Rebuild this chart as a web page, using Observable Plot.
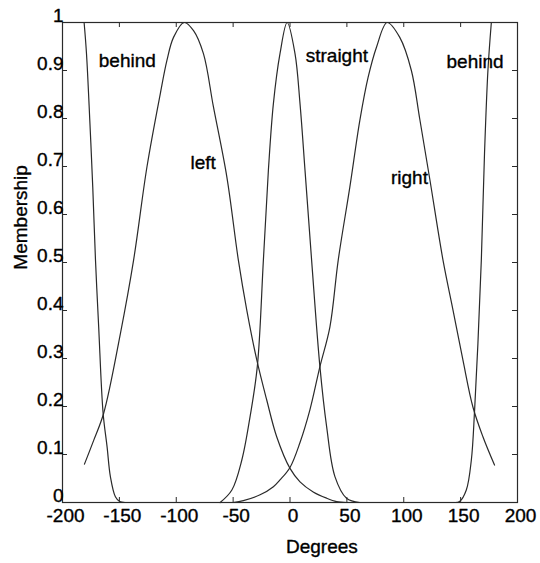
<!DOCTYPE html>
<html>
<head>
<meta charset="utf-8">
<script src="https://cdn.jsdelivr.net/npm/d3@7"></script>
<script src="https://cdn.jsdelivr.net/npm/@observablehq/plot@0.6"></script>
<style>
  html, body { margin: 0; padding: 0; background: #fff; }
  #chart { width: 540px; height: 563px; }
</style>
</head>
<body>
<div id="chart"></div>
<script>
// ---- data ----
const behindLDeg = [-181, -178.9, -176, -173.4, -171, -168.2, -164.3, -160.8, -157.9, -153.5, -149.7, -145];
const behindLMu  = [1.0, 0.935, 0.796, 0.657, 0.505, 0.366, 0.186, 0.116, 0.054, 0.012, 0.002, 0];

const leftDeg = [-180.7, -172.5, -163.8, -149.1, -137.5, -125.7, -114, -108.2, -102.4, -93, -84.8, -76.1, -67.3, -55.5, -45.4, -38, -29.2, -20.4, -11.7, 0, 8.8, 20.4, 32.2, 41, 50];
const leftMu  = [0.080, 0.130, 0.186, 0.352, 0.505, 0.700, 0.852, 0.921, 0.969, 1.0, 0.983, 0.935, 0.824, 0.678, 0.505, 0.401, 0.297, 0.213, 0.137, 0.071, 0.043, 0.022, 0.009, 0.002, 0];

const straightDeg = [-61.4, -51.1, -42.4, -35.1, -28.7, -23.4, -19, -14.6, -8.8, -2.5, 4.4, 8.8, 13.2, 19, 26.3, 32.2, 39.5, 49.7, 61.4];
const straightMu  = [0, 0.026, 0.088, 0.179, 0.284, 0.505, 0.692, 0.831, 0.935, 1.0, 0.935, 0.831, 0.692, 0.505, 0.283, 0.158, 0.054, 0.009, 0];

const rightDeg = [-50, -41, -26.3, -14.6, -8.8, 0, 8.8, 17.5, 26.3, 35.1, 42.4, 52.6, 61.4, 68.7, 76.1, 85.4, 96.5, 106.7, 114, 122.8, 134.5, 143.3, 152, 160.8, 169.6, 179.8];
const rightMu  = [0, 0.004, 0.016, 0.033, 0.047, 0.073, 0.125, 0.193, 0.283, 0.366, 0.505, 0.657, 0.796, 0.886, 0.949, 1.0, 0.969, 0.9, 0.800, 0.675, 0.505, 0.401, 0.297, 0.199, 0.137, 0.078];

const behindRDeg = [145, 149.1, 155, 159.4, 162.3, 165.2, 168.2, 171, 174, 177];
const behindRMu  = [0, 0.002, 0.026, 0.088, 0.193, 0.331, 0.505, 0.727, 0.9, 1.0];

const labelText = ["behind", "left", "straight", "right", "behind"];
const labelDeg  = [-143, -76.3, 41.2, 105, 162.7];
const labelMu   = [0.921, 0.707, 0.930, 0.677, 0.917];

const xTicks = [-200, -150, -100, -50, 0, 50, 100, 150, 200];
const xTickLabels = ["-200", "-150", "-100", "-50", "0", "50", "100", "150", "200"];
const yTicks = [0, 0.1, 0.2, 0.3, 0.4, 0.5, 0.6, 0.7, 0.8, 0.9, 1];
const yTickLabels = ["0", "0.1", "0.2", "0.3", "0.4", "0.5", "0.6", "0.7", "0.8", "0.9", "1"];

const xLabel = "Degrees";
const yLabel = "Membership";

// ---- build tables ----
const toRows = (xs, ys) => xs.map((x, i) => ({deg: x, mu: ys[i]}));
const series = [
  toRows(behindLDeg, behindLMu),
  toRows(leftDeg, leftMu),
  toRows(straightDeg, straightMu),
  toRows(rightDeg, rightMu),
  toRows(behindRDeg, behindRMu)
];
const labels = labelText.map((t, i) => ({t, deg: labelDeg[i], mu: labelMu[i]}));
const xt = xTicks.map((v, i) => ({v, s: xTickLabels[i]}));
const yt = yTicks.map((v, i) => ({v, s: yTickLabels[i]}));

const ink = "#2a2a2a";
const W = 540, H = 563;
const mL = 62, mR = 23, mT = 22, mB = 61;
const tickLenPx = 5;
const xPerPx = 400 / (W - mL - mR);
const yPerPx = 1 / (H - mT - mB);
const textOpts = {fill: "#000", stroke: "#000", strokeWidth: 0.35};

const chart = Plot.plot({
  width: W,
  height: H,
  marginLeft: mL,
  marginRight: mR,
  marginTop: mT,
  marginBottom: mB,
  x: {domain: [-200, 200], axis: null},
  y: {domain: [0, 1], axis: null},
  style: {fontFamily: "'Liberation Sans', Arial, Helvetica, sans-serif", fontSize: "19px", background: "#fff", color: ink},
  marks: [
    // inward ticks on all four sides
    Plot.ruleX(xTicks, {x: d => d, y1: 0, y2: tickLenPx * yPerPx, stroke: ink, strokeWidth: 1}),
    Plot.ruleX(xTicks, {x: d => d, y1: 1 - tickLenPx * yPerPx, y2: 1, stroke: ink, strokeWidth: 1}),
    Plot.ruleY(yTicks, {y: d => d, x1: -200, x2: -200 + tickLenPx * xPerPx, stroke: ink, strokeWidth: 1}),
    Plot.ruleY(yTicks, {y: d => d, x1: 200 - tickLenPx * xPerPx, x2: 200, stroke: ink, strokeWidth: 1}),
    Plot.frame({stroke: ink, strokeWidth: 1.2}),
    // curves
    ...series.map(s => Plot.line(s, {x: "deg", y: "mu", stroke: ink, strokeWidth: 1.2, curve: "catmull-rom"})),
    // tick labels
    Plot.text(xt, {x: "v", y: 0, text: "s", dx: 3, dy: 13, lineAnchor: "middle", textAnchor: "middle", ...textOpts}),
    Plot.text(yt, {x: -200, y: "v", text: "s", dx: 1, dy: -7, lineAnchor: "middle", textAnchor: "end", ...textOpts}),
    // curve labels
    Plot.text(labels, {x: "deg", y: "mu", text: "t", lineAnchor: "middle", textAnchor: "middle", ...textOpts}),
    // axis titles
    Plot.text([xLabel], {x: 28, y: 0, text: d => d, dy: 44, lineAnchor: "middle", ...textOpts}),
    Plot.text([yLabel], {x: -200, y: 0.594, text: d => d, dx: -42, rotate: -90, lineAnchor: "middle", ...textOpts})
  ]
});
document.getElementById("chart").appendChild(chart);
</script>
</body>
</html>
